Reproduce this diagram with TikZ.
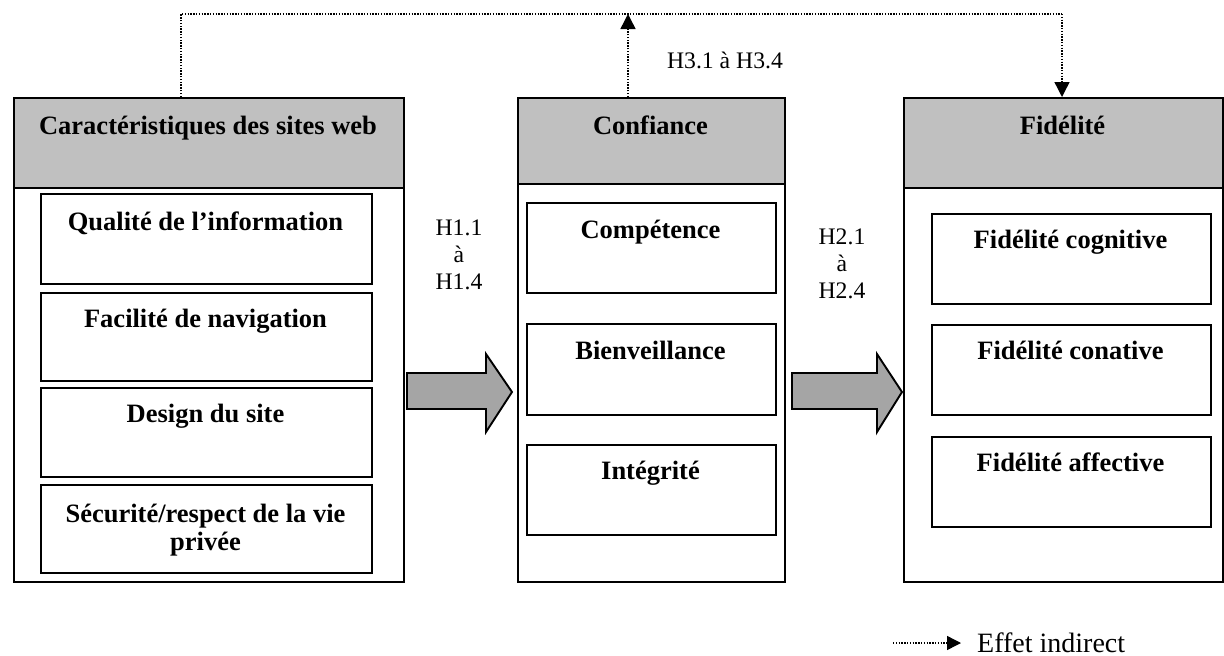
\documentclass[tikz,border=0pt]{standalone}
\usepackage{fontspec}
\setmainfont{Liberation Serif}
\usetikzlibrary{arrows.meta}
\definecolor{headgray}{RGB}{192,192,192}
\definecolor{arrgray}{RGB}{165,165,165}
\begin{document}
\begin{tikzpicture}[x=1pt,y=-1pt,
  panel/.style={draw,line width=2.2pt,anchor=north west,inner sep=0pt},
  headbox/.style={draw,line width=2.2pt,fill=headgray,anchor=north west,inner sep=0pt},
  itembox/.style={draw,line width=1.9pt,anchor=north west,inner sep=0pt},
  btext/.style={font=\fontsize{26.5}{29}\selectfont\bfseries,anchor=base,inner sep=0pt},
  rtext/.style={font=\fontsize{23.7}{27}\selectfont,anchor=base,inner sep=0pt},
  ltext/.style={font=\fontsize{28}{31}\selectfont,anchor=base west,inner sep=0pt},
  indirect/.style={line width=1.4pt,dash pattern=on 1.4pt off 1.4pt,-{Triangle[width=15pt,length=15pt]}},
  indirectline/.style={line width=1.4pt,dash pattern=on 1.4pt off 1.4pt},
  blockarrow/.style={draw,line width=1.9pt,fill=arrgray,line join=miter}
]
\useasboundingbox (0,0) rectangle (1224,656);

% Panels
\node[panel,minimum width=390pt,minimum height=484pt] (Lpanel) at (13,97) {};
\node[panel,minimum width=267pt,minimum height=484pt] (Cpanel) at (517,97) {};
\node[panel,minimum width=319pt,minimum height=484pt] (Fpanel) at (903,97) {};

% Headers
\node[headbox,minimum width=390pt,minimum height=90pt] (Lhead) at (13,97) {};
\node[headbox,minimum width=267pt,minimum height=86pt] (Chead) at (517,97) {};
\node[headbox,minimum width=319pt,minimum height=90pt] (Fhead) at (903,97) {};
\node[btext] (LheadT) at (208,134) {Caractéristiques des sites web};
\node[btext] (CheadT) at (650.5,134) {Confiance};
\node[btext] (FheadT) at (1062.5,134) {Fidélité};

% Left items
\node[itembox,minimum width=331pt,minimum height=90pt] (q1) at (40,193) {};
\node[itembox,minimum width=331pt,minimum height=88pt] (q2) at (40,292) {};
\node[itembox,minimum width=331pt,minimum height=89pt] (q3) at (40,387) {};
\node[itembox,minimum width=331pt,minimum height=88pt] (q4) at (40,484) {};
\node[btext] (q1T) at (205.5,230) {Qualité de l’information};
\node[btext] (q2T) at (205.5,327) {Facilité de navigation};
\node[btext] (q3T) at (205.5,422) {Design du site};
\node[btext] (q4T) at (205.5,522) {Sécurité/respect de la vie};
\node[btext] (q4T2) at (205.5,550) {privée};

% Middle items
\node[itembox,minimum width=249pt,minimum height=90pt] (c1) at (526,202) {};
\node[itembox,minimum width=249pt,minimum height=91pt] (c2) at (526,323) {};
\node[itembox,minimum width=249pt,minimum height=90pt] (c3) at (526,444) {};
\node[btext] (c1T) at (650.5,238) {Compétence};
\node[btext] (c2T) at (650.5,359) {Bienveillance};
\node[btext] (c3T) at (650.5,479) {Intégrité};

% Right items
\node[itembox,minimum width=279pt,minimum height=90pt] (f1) at (931,213) {};
\node[itembox,minimum width=279pt,minimum height=90pt] (f2) at (931,324) {};
\node[itembox,minimum width=279pt,minimum height=90pt] (f3) at (931,436) {};
\node[btext] (f1T) at (1070.5,248) {Fidélité cognitive};
\node[btext] (f2T) at (1070.5,359) {Fidélité conative};
\node[btext] (f3T) at (1070.5,471) {Fidélité affective};

% Hypothesis labels
\node[rtext] (h1a) at (459,235) {H1.1};
\node[rtext] (h1b) at (459,262) {à};
\node[rtext] (h1c) at (459,289) {H1.4};
\node[rtext] (h2a) at (842,244) {H2.1};
\node[rtext] (h2b) at (842,271) {à};
\node[rtext] (h2c) at (842,298) {H2.4};
\node[rtext] (h3) at (725,68) {H3.1 à H3.4};

% Block arrows
\draw[blockarrow] (407,373) -- (486,373) -- (486,354) -- (512,392) -- (486,432) -- (486,409) -- (407,409) -- cycle;
\draw[blockarrow] (792,373) -- (877,373) -- (877,354) -- (902,392) -- (877,432) -- (877,409) -- (792,409) -- cycle;

% Indirect effect (dotted)
\coordinate (topL) at (181,14);
\coordinate (topR) at (1062,14);
\coordinate (topM) at (628,14);
\draw[indirectline] (Lhead.north west -| topL) -- (topL) -- (topR);
\draw[indirect] (topR) -- (Fhead.north -| topR);
\draw[indirect] (Chead.north -| topM) -- (topM);

% Legend
\coordinate (legA) at (893,643);
\coordinate (legB) at (961,643);
\node[ltext] (legT) at (977,652) {Effet indirect};
\draw[line width=1.4pt,dash pattern=on 1.4pt off 1.4pt,-{Triangle[width=14pt,length=14pt]}] (legA) -- (legB);
\end{tikzpicture}
\end{document}
